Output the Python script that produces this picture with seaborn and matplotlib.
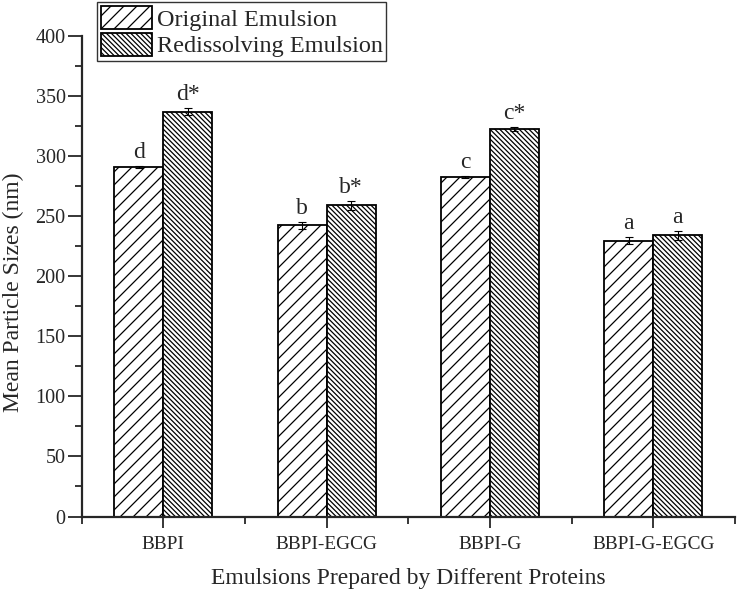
import matplotlib
matplotlib.use("Agg")
import matplotlib.pyplot as plt
import seaborn as sns
import pandas as pd
import numpy as np
from matplotlib.patches import Patch
from matplotlib.ticker import MultipleLocator

categories = ["BBPI", "BBPI-EGCG", "BBPI-G", "BBPI-G-EGCG"]
series = ["Original Emulsion", "Redissolving Emulsion"]
original = [291, 242.5, 282.5, 229.5]
redissolving = [337, 259, 322.5, 234]
original_err = [0.8, 2.8, 1, 3]
redissolving_err = [3, 3.5, 2, 3.7]
original_labels = ["d", "b", "c", "a"]
redissolving_labels = ["d*", "b*", "c*", "a"]

df = pd.DataFrame({
    "cat": categories * 2,
    "series": [series[0]] * 4 + [series[1]] * 4,
    "val": original + redissolving,
})

DPI = 117
S = 100 / DPI  # point scale so sizes match a 100-dpi layout

sns.set_style("ticks")
plt.rcParams["font.family"] = ["Liberation Serif", "DejaVu Serif"]
plt.rcParams["hatch.linewidth"] = 0.9 * S

fig = plt.figure(figsize=(738 / DPI, 593 / DPI), dpi=DPI)
ax = fig.add_axes([81.5 / 738, 1 - 516.5 / 593, (735 - 81.5) / 738, (516.5 - 36) / 593])

sns.barplot(data=df, x="cat", y="val", hue="series", order=categories,
            hue_order=series, palette=["white", "white"], width=0.6,
            edgecolor="black", linewidth=1.3 * S, errorbar=None, legend=False, ax=ax)

hatches = ["///", "\\" * 8]
errs = [original_err, redissolving_err]
labs = [original_labels, redissolving_labels]
vals = [original, redissolving]
bar_containers = list(ax.containers)
for i, cont in enumerate(bar_containers):
    for j, bar in enumerate(cont.patches):
        bar.set_hatch(hatches[i])
        cx = bar.get_x() + bar.get_width() / 2
        ax.errorbar(cx, vals[i][j], yerr=errs[i][j], fmt="none", ecolor="black",
                    elinewidth=0.8 * S, capsize=3 * S, capthick=0.8 * S)
        ax.text(cx, vals[i][j] + errs[i][j] + 2.5, labs[i][j], ha="center",
                va="bottom", fontsize=17 * S)

ax.set_xlim(-0.5, 3.5)
ax.set_ylim(0, 400)
ax.yaxis.set_major_locator(MultipleLocator(50))
ax.yaxis.set_minor_locator(MultipleLocator(25))
ax.set_xticks([-0.5, 0.5, 1.5, 2.5, 3.5], minor=True)
ax.tick_params(axis="y", which="major", length=10 * S, width=1.3 * S, labelsize=14.5 * S,
               direction="out", pad=1.5 * S)
ax.tick_params(axis="x", which="major", length=8 * S, width=1.3 * S, labelsize=14 * S,
               direction="out", pad=6 * S)
ax.tick_params(axis="both", which="minor", length=5 * S, width=1.3 * S, direction="out")
for s in ["left", "bottom"]:
    ax.spines[s].set_linewidth(1.6 * S)
sns.despine(ax=ax)
ax.set_xlabel("Emulsions Prepared by Different Proteins", fontsize=17 * S, labelpad=11 * S)
ax.set_ylabel("Mean Particle Sizes (nm)", fontsize=17 * S)
ax.yaxis.set_label_coords(-0.088, 0.467)

handles = [Patch(facecolor="white", edgecolor="black", linewidth=1.3 * S, hatch=hatches[k],
                 label=series[k]) for k in range(2)]
leg = fig.legend(handles=handles, loc="upper left", bbox_to_anchor=(97 / 738, 1 - 2 / 593),
                 frameon=True, fancybox=False, edgecolor="black", fontsize=17.5 * S,
                 handlelength=2.1, handleheight=1.1, labelspacing=0.08,
                 borderpad=0.15, handletextpad=0.2, borderaxespad=0)
leg.get_frame().set_linewidth(1.0 * S)

fig.savefig("out.png", dpi=DPI)
